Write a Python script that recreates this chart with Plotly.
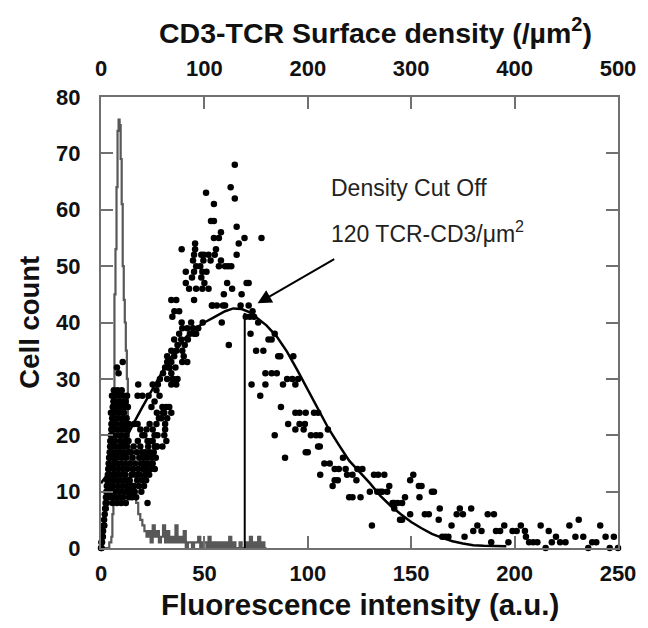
import plotly.graph_objects as go

# ---------------- data ----------------
# grey control histogram (fluorescence intensity, cell count)
hist_x = [0, 1, 2, 3, 4, 5, 5.5, 6, 6.5, 7, 7.5, 8, 8.5, 9, 9.5, 10, 10.5, 11, 11.5, 12,
          12.5, 13, 13.5, 14, 14.5, 15, 16, 17, 18, 19, 20, 21, 22, 23, 24, 25, 26, 27, 28,
          29, 30, 31, 32, 33, 34, 35, 36, 37, 38, 39, 40, 41, 42, 43, 44, 45, 46, 47, 48, 49,
          50, 51, 52, 53, 54, 55, 56, 57, 58, 59, 60, 61, 62, 63, 64, 65, 66, 67, 68, 69, 70,
          71, 72, 73, 74, 75, 76, 77, 78, 79, 80]
hist_y = [0, 0, 0, 0, 1, 2, 6, 28, 45, 53, 64, 74, 76, 75, 69, 61, 50, 44, 40, 35,
          30, 21, 18, 14, 12, 11, 9, 8, 6, 5, 4, 3, 2, 3, 1, 4, 2, 3, 1,
          2, 4, 1, 3, 1, 2, 1, 4, 1, 2, 1, 3, 0, 1, 1, 0, 1, 1, 2, 0, 1,
          1, 0, 2, 0, 1, 0, 1, 0, 1, 0, 1, 0, 2, 0, 1, 0, 0, 1, 0, 0, 1,
          0, 2, 0, 1, 0, 2, 0, 1, 0, 0]

# stained-cell histogram (dots), grouped by region of the cloud
rise_pts = [(0.0, 0), (0.3, 0), (0.5, 1), (0.2, 1), (0.7, 2), (0.9, 2), (1.0, 3), (1.2, 4),
            (1.5, 5), (1.6, 4), (1.8, 6), (2.0, 7), (2.2, 8), (2.4, 9), (2.3, 7), (2.6, 10),
            (2.8, 11), (3.0, 12), (3.1, 10), (3.3, 13), (3.5, 14), (3.7, 15), (3.9, 16),
            (4.0, 14), (4.2, 17), (4.4, 18), (4.6, 19), (4.8, 20), (5.0, 21), (5.2, 22),
            (5.4, 23), (5.6, 24), (5.8, 25), (6.0, 26), (2.8, 8), (3.4, 9), (4.0, 11)]
dense_pts = [(4.5, 9), (4.6, 19), (4.7, 12), (4.8, 24), (4.9, 15), (5.0, 10), (5.1, 22), (5.2, 17),
             (5.3, 27), (5.4, 13), (5.5, 20), (5.6, 8), (5.7, 25), (5.8, 16), (5.9, 11), (6.0, 23),
             (6.1, 18), (6.2, 28), (6.3, 14), (6.4, 21), (6.5, 9), (6.6, 26), (6.7, 12), (6.8, 19),
             (6.9, 24), (7.0, 15), (7.1, 10), (7.2, 27), (7.3, 17), (7.4, 22), (7.5, 13), (7.6, 25),
             (7.7, 8), (7.8, 20), (7.9, 16), (8.0, 28), (8.1, 11), (8.2, 23), (8.3, 18), (8.4, 14),
             (8.5, 26), (8.6, 9), (8.7, 21), (8.8, 12), (8.9, 24), (9.0, 17), (9.1, 27), (9.2, 10),
             (9.3, 19), (9.4, 15), (9.5, 25), (9.6, 13), (9.7, 22), (9.8, 8), (9.9, 20), (10.0, 28),
             (10.1, 16), (10.2, 11), (10.3, 23), (10.4, 18), (10.5, 26), (10.6, 14), (10.7, 9),
             (10.8, 21), (10.9, 27), (11.0, 12), (11.1, 24), (11.2, 17), (11.3, 10), (11.4, 19),
             (11.5, 25), (11.6, 15), (11.7, 22), (11.8, 13), (11.9, 26), (12.0, 8), (12.1, 20),
             (12.2, 16), (12.3, 11), (12.4, 23), (12.5, 18), (12.6, 27), (12.7, 14), (12.8, 21),
             (12.9, 10), (13.0, 25), (13.1, 17), (13.2, 12), (13.3, 19), (13.4, 22),
             (7.7, 32), (10.5, 33), (8.5, 31)]
low_pts = [(13.2, 10), (13.5, 9), (13.8, 12), (14.0, 15), (14.3, 11), (14.5, 17), (14.8, 13),
           (15.0, 9), (15.3, 16), (15.5, 14), (15.8, 18), (16.0, 11), (16.3, 10), (16.5, 15),
           (16.8, 13), (17.0, 9), (17.3, 17), (17.5, 12), (17.8, 19), (18.0, 14), (18.3, 11),
           (18.5, 16), (18.8, 13), (19.0, 18), (19.3, 15), (19.5, 10), (19.8, 17), (20.0, 12),
           (20.3, 14), (20.5, 16), (20.8, 11), (21.0, 15), (21.3, 13), (21.5, 17), (21.8, 12),
           (22.0, 14), (22.3, 16), (22.5, 8), (22.8, 18), (23.0, 15), (23.3, 13), (23.5, 17),
           (24.0, 14), (24.5, 16), (25.0, 15), (25.5, 17), (26.0, 14), (26.5, 16), (27.0, 18),
           (16.0, 10), (14.5, 10), (13.0, 10)]
mid_pts = [(16.0, 22), (17.7, 22), (19.0, 21), (20.0, 20), (21.0, 20), (22.0, 21), (23.5, 22),
           (22.5, 19), (24.4, 19), (25.0, 21), (25.9, 20), (26.8, 22), (27.3, 20), (27.0, 18),
           (29.7, 18), (24.4, 25), (25.9, 26), (28.3, 27), (29.7, 25), (31.6, 25), (30.6, 24),
           (29.2, 23), (32.0, 23), (34.0, 24), (30.0, 24), (31.0, 22), (33.0, 25), (30.6, 20),
           (31.6, 19), (31.0, 21), (25.0, 19), (26.0, 18), (27.0, 24), (28.0, 23),
           (17.7, 27), (18.0, 29), (23.0, 27), (20.0, 27), (25.0, 29), (26.8, 28), (27.5, 29),
           (28.5, 30), (30.0, 31), (31.0, 32), (32.0, 33), (33.0, 32), (34.0, 33), (35.0, 30),
           (36.0, 32), (36.4, 29), (37.0, 30), (34.0, 29), (32.0, 30), (34.5, 30), (33.0, 32)]
rise2_pts = [(39.3, 39), (41.7, 39), (37.8, 38), (35.4, 37), (38.8, 37), (37.0, 36), (39.3, 35),
             (36.4, 35), (34.0, 35), (32.0, 34), (35.4, 34), (39.3, 33), (41.7, 33), (33.0, 32),
             (34.0, 31), (39.0, 40), (40.5, 36), (42.0, 37), (43.0, 38), (44.5, 39), (46.0, 38),
             (47.0, 39), (45.0, 38), (40.0, 34), (34.0, 44), (36.4, 44), (35.5, 42), (37.8, 42),
             (34.5, 41)]
peak_pts = [(64.7, 68), (50.8, 63), (62.7, 64), (64.7, 62), (54.6, 61), (53.2, 58), (54.6, 58),
            (58.0, 56), (65.6, 57), (77.6, 55), (69.4, 55), (54.6, 55), (57.0, 55), (45.5, 54),
            (45.5, 53), (45.0, 52), (44.5, 51), (46.0, 50), (39.0, 53), (55.6, 53), (66.6, 54),
            (65.6, 52), (49.8, 52), (53.0, 51), (58.0, 51), (60.0, 50), (61.5, 50), (63.0, 50),
            (57.0, 50), (41.0, 49), (49.0, 49), (51.0, 49), (48.5, 48), (44.0, 48), (41.0, 47),
            (50.0, 47), (61.0, 47), (70.4, 47), (42.6, 46), (46.0, 46), (49.0, 46), (52.0, 46),
            (63.4, 46), (45.0, 44), (59.4, 45), (68.0, 45), (54.0, 43), (56.0, 43), (59.0, 43),
            (67.5, 43), (71.4, 43), (73.3, 42), (70.0, 41), (72.0, 41), (74.0, 41), (76.0, 40),
            (58.4, 40), (61.8, 36), (43.6, 40), (49.2, 40), (60.0, 43), (53.6, 43),
            (48.0, 50), (48.5, 52), (49.5, 51), (52.0, 52), (55.0, 52), (71.4, 47), (45.0, 49)]
fall_pts = [(72.3, 38), (81.0, 37), (82.5, 37), (84.0, 38), (85.7, 34), (86.7, 34), (93.0, 34),
            (79.5, 31), (82.5, 31), (85.0, 31), (90.0, 30), (92.5, 30), (95.3, 30), (72.8, 29),
            (79.5, 29), (77.0, 27), (75.0, 35), (78.5, 35), (87.0, 25), (88.0, 29), (94.0, 29),
            (94.0, 24), (96.0, 24), (99.0, 24), (103.0, 24), (105.0, 24), (90.5, 22), (96.0, 22),
            (94.0, 21), (98.0, 21), (98.6, 22), (101.5, 20), (104.0, 20), (106.0, 20), (84.0, 20),
            (109.7, 21), (89.0, 16), (99.0, 17), (105.0, 18), (108.0, 15), (110.6, 15), (117.0, 16),
            (113.0, 14), (115.0, 14), (124.0, 14), (126.4, 14), (119.0, 13), (121.6, 13), (106.0, 13),
            (113.0, 12), (114.5, 12), (112.0, 11), (120.0, 9), (121.6, 9), (125.5, 9), (130.0, 10),
            (132.0, 13), (131.0, 4), (118.3, 14), (123.5, 12), (100.0, 17), (105.8, 18)]
tail_pts = [(137.0, 13), (136.0, 10), (139.4, 11), (141.8, 8), (143.5, 8), (145.6, 8), (147.0, 9),
            (149.5, 12), (151.0, 13), (144.6, 5), (153.7, 11), (155.0, 11), (154.0, 9), (160.0, 10),
            (161.0, 10), (163.8, 7), (163.3, 5), (149.5, 6), (156.6, 6), (158.5, 6), (165.0, 2),
            (166.5, 2), (168.0, 2), (169.5, 4), (172.0, 6), (173.5, 7), (175.0, 6), (179.0, 7),
            (175.8, 2), (180.0, 3), (182.0, 4), (184.0, 3), (187.0, 6), (190.0, 6), (188.7, 1),
            (191.0, 3), (193.0, 3), (195.0, 4), (197.0, 1), (199.0, 3), (201.0, 3), (203.0, 4),
            (205.0, 3), (205.5, 2), (207.0, 1), (209.0, 1), (211.0, 1), (212.6, 4), (215.0, 0),
            (216.5, 3), (218.0, 1), (220.0, 2), (222.0, 1), (224.6, 1), (226.5, 4), (229.4, 2),
            (231.0, 5), (233.2, 2), (235.6, 0), (237.5, 1), (239.5, 1), (241.4, 4), (244.0, 2),
            (248.0, 2), (246.0, 0), (250.0, 0), (141.0, 8), (141.8, 7), (145.6, 5),
            (133.6, 10), (135.0, 10), (138.4, 10), (134.0, 13)]

# smooth fit through the stained-cell histogram
fit_x = [0, 4, 8, 12, 16, 20, 24, 28, 32, 36, 40, 45, 50, 55, 60, 64, 68, 72, 76, 80, 85, 90,
         95, 100, 105, 110, 115, 120, 125, 130, 135, 140, 145, 150, 155, 160, 165, 170, 175,
         180, 185, 190, 196]
fit_y = [11.5, 13.5, 16.5, 19.5, 22.3, 25, 27.5, 30.2, 32.8, 35, 37, 38.8, 40, 41, 42, 42.5,
         42.4, 41.8, 40.7, 39.5, 37.5, 34.8, 31.5, 28, 24.5, 21.2, 18.3, 15.5, 13.5, 11.5, 9.3,
         7.5, 6, 4.6, 3.5, 2.5, 1.8, 1.2, 0.8, 0.5, 0.4, 0.3, 0.3]

cutoff_x = [69.5, 69.5]
cutoff_y = [0, 41.7]
arrow_tip = (75.7, 43.4)
arrow_tail = (113.5, 51.4)

x_ticks = [0, 50, 100, 150, 200, 250]
x2_ticks = [0, 100, 200, 300, 400, 500]
y_ticks = [0, 10, 20, 30, 40, 50, 60, 70, 80]

# ---------------- figure ----------------
FONT = "Liberation Sans"
AX = "#707070"

all_pts = rise_pts + dense_pts + low_pts + mid_pts + rise2_pts + peak_pts + fall_pts + tail_pts
dot_x = [p[0] for p in all_pts]
dot_y = [p[1] for p in all_pts]

fig = go.Figure()
fig.add_trace(go.Scatter(x=hist_x, y=hist_y, mode="lines", line_shape="hv",
                         line=dict(color="#585858", width=2.2), hoverinfo="skip"))
fig.add_trace(go.Scatter(x=dot_x, y=dot_y, mode="markers", cliponaxis=False,
                         marker=dict(color="black", size=6.5, line=dict(width=0)),
                         hoverinfo="skip"))
fig.add_trace(go.Scatter(x=fit_x, y=fit_y, mode="lines",
                         line=dict(color="black", width=2.5), hoverinfo="skip"))
fig.add_trace(go.Scatter(x=cutoff_x, y=cutoff_y, mode="lines",
                         line=dict(color="black", width=2), hoverinfo="skip"))
# carrier for the top (density) axis
fig.add_trace(go.Scatter(x=[0, 500], y=[0, 0], xaxis="x2", mode="markers",
                         marker=dict(opacity=0), hoverinfo="skip"))

tickfont = dict(family=FONT, size=22, color="#111", weight="bold")

fig.update_layout(
    width=648, height=628, showlegend=False,
    margin=dict(l=101, r=25, t=97, b=80),
    paper_bgcolor="white", plot_bgcolor="white",
    xaxis=dict(range=[0, 250], tickvals=x_ticks, ticks="inside", ticklen=12, tickwidth=2,
               tickcolor=AX, showline=True, linecolor=AX, linewidth=2, mirror="ticks",
               showgrid=False, zeroline=False, tickfont=tickfont, ticklabelstandoff=5),
    xaxis2=dict(range=[0, 500], tickvals=x2_ticks, overlaying="x", side="top",
                showline=False, ticks="", showgrid=False, zeroline=False,
                tickfont=tickfont, ticklabelstandoff=16),
    yaxis=dict(range=[0, 80], tickvals=y_ticks, ticks="inside", ticklen=12, tickwidth=2,
               tickcolor=AX, showline=True, linecolor=AX, linewidth=2, mirror="ticks",
               showgrid=False, zeroline=False, tickfont=tickfont, ticklabelstandoff=14),
)

fig.add_annotation(text="CD3-TCR Surface density (/µm<sup>2</sup>)", xref="paper", yref="paper",
                   x=0.531, y=1.146, xanchor="center", yanchor="middle", showarrow=False,
                   font=dict(family=FONT, size=28.5, color="#111", weight="bold"))
fig.add_annotation(text="Fluorescence intensity (a.u.)", xref="paper", yref="paper",
                   x=0.5, y=-0.126, xanchor="center", yanchor="middle", showarrow=False,
                   font=dict(family=FONT, size=29.5, color="#111", weight="bold"))
fig.add_annotation(text="Cell count", xref="paper", yref="paper", textangle=-90,
                   x=-0.14, y=0.501, xanchor="center", yanchor="middle", showarrow=False,
                   font=dict(family=FONT, size=27.5, color="#111", weight="bold"))
fig.add_annotation(text="Density Cut Off", x=110.2, y=63.8, xanchor="left", yanchor="middle",
                   showarrow=False, font=dict(family=FONT, size=23, color="#222"))
fig.add_annotation(text="120 TCR-CD3/μm<sup>2</sup>", x=110.2, y=56, xanchor="left",
                   yanchor="middle", showarrow=False,
                   font=dict(family=FONT, size=23, color="#222"))
fig.add_annotation(x=arrow_tip[0], y=arrow_tip[1], ax=arrow_tail[0], ay=arrow_tail[1],
                   xref="x", yref="y", axref="x", ayref="y", text="", showarrow=True,
                   arrowhead=2, arrowsize=1.4, arrowwidth=2, arrowcolor="black")

fig.write_html("out.html")
